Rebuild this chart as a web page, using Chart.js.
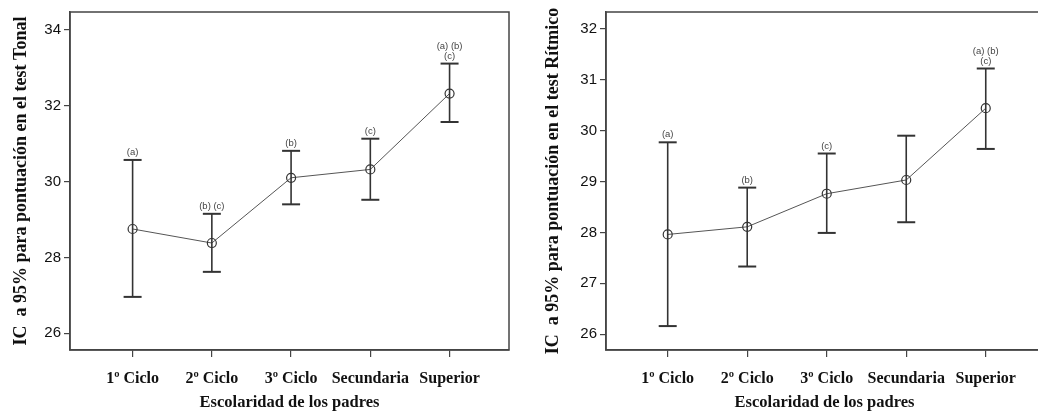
<!DOCTYPE html>
<html>
<head>
<meta charset="utf-8">
<script src="https://cdn.jsdelivr.net/npm/chart.js@4.4.0/dist/chart.umd.min.js"></script>
<style>
  html, body { margin: 0; padding: 0; background: #fff; overflow: hidden; }
  body { width: 1038px; height: 415px; position: relative; }
  .panel { position: absolute; top: 0; height: 415px; }
</style>
</head>
<body>
<div class="panel" style="left:0;width:520px"><canvas id="tonal"></canvas></div>
<div class="panel" style="left:520px;width:560px"><canvas id="ritmico"></canvas></div>
<script>
const CATEGORIES = ["1º Ciclo", "2º Ciclo", "3º Ciclo", "Secundaria", "Superior"];

const TONAL_MEAN = [28.75, 28.38, 30.10, 30.32, 32.32];
const TONAL_LOW = [26.96, 27.62, 29.40, 29.52, 31.57];
const TONAL_HIGH = [30.57, 29.15, 30.81, 31.13, 33.11];
const TONAL_LETTERS = [["(a)"], ["(b) (c)"], ["(b)"], ["(c)"], ["(a) (b)", "(c)"]];
const TONAL_TICKS = [26, 28, 30, 32, 34];

const RITMICO_MEAN = [27.96, 28.11, 28.76, 29.03, 30.44];
const RITMICO_LOW = [26.16, 27.33, 27.99, 28.20, 29.64];
const RITMICO_HIGH = [29.77, 28.88, 29.55, 29.90, 31.22];
const RITMICO_LETTERS = [["(a)"], ["(b)"], ["(c)"], [], ["(a) (b)", "(c)"]];
const RITMICO_TICKS = [26, 27, 28, 29, 30, 31, 32];

const AXIS_COLOR = "#444";

// box round the plot area
const framePlugin = {
  id: "frame",
  beforeDatasetsDraw(chart) {
    const { ctx, chartArea } = chart;
    ctx.save();
    ctx.strokeStyle = AXIS_COLOR;
    ctx.lineWidth = 1.5;
    ctx.strokeRect(chartArea.left, chartArea.top, chartArea.right - chartArea.left, chartArea.bottom - chartArea.top);
    ctx.restore();
  },
};

// the (a) (b) (c) marks above each error bar
const lettersPlugin = {
  id: "letters",
  afterDatasetsDraw(chart, args, opts) {
    const { ctx } = chart;
    const xs = chart.scales.x, ys = chart.scales.y;
    ctx.save();
    ctx.font = "9.5px 'Liberation Sans', Arial, sans-serif";
    ctx.fillStyle = "#444";
    ctx.textAlign = "center";
    ctx.textBaseline = "alphabetic";
    opts.labels.forEach((lines, i) => {
      const x = xs.getPixelForValue(i);
      const y = ys.getPixelForValue(opts.high[i]) - 5;
      for (let j = lines.length - 1; j >= 0; j--) {
        ctx.fillText(lines[j], x, y - (lines.length - 1 - j) * 10);
      }
    });
    ctx.restore();
  },
};

function makeChart(id, p) {
  const datasets = [];
  p.low.forEach((lo, i) => {
    datasets.push({
      data: [{ x: i, y: lo }, { x: i, y: p.high[i] }],
      showLine: true,
      borderColor: "#333",
      borderWidth: 1.6,
      pointStyle: "line",
      pointRadius: 9,
      pointBorderWidth: 2,
      pointBorderColor: "#333",
    });
  });
  datasets.push({
    data: p.mean.map((m, i) => ({ x: i, y: m })),
    showLine: true,
    borderColor: "#555",
    borderWidth: 1,
    pointRadius: 4.5,
    pointBackgroundColor: "rgba(0,0,0,0)",
    pointBorderColor: "#333",
    pointBorderWidth: 1.2,
  });

  return new Chart(document.getElementById(id), {
    type: "scatter",
    data: { datasets },
    plugins: [framePlugin, lettersPlugin],
    options: {
      responsive: true,
      maintainAspectRatio: false,
      animation: false,
      layout: { padding: p.padding },
      plugins: {
        legend: { display: false },
        tooltip: { enabled: false },
        letters: { labels: p.letters, high: p.high },
      },
      scales: {
        x: {
          type: "linear",
          min: p.xMin,
          max: p.xMax,
          afterBuildTicks: (s) => { s.ticks = CATEGORIES.map((_, i) => ({ value: i })); },
          afterFit: (s) => { s.height = 65; },
          ticks: {
            callback: (v) => CATEGORIES[v],
            font: { family: "'Liberation Serif', 'Times New Roman', serif", size: 16, weight: "bold" },
            color: "#111",
            padding: 12,
            maxRotation: 0,
          },
          grid: { drawOnChartArea: false, drawTicks: true, tickLength: 7, color: AXIS_COLOR, lineWidth: 1.2 },
          border: { color: AXIS_COLOR, width: 1.5 },
          title: {
            display: true,
            text: "Escolaridad de los padres",
            font: { family: "'Liberation Serif', 'Times New Roman', serif", size: 16.5, weight: "bold" },
            color: "#111",
            padding: { top: 2, bottom: 2 },
          },
        },
        y: {
          type: "linear",
          min: p.yMin,
          max: p.yMax,
          afterBuildTicks: (s) => { s.ticks = p.ticks.map((v) => ({ value: v })); },
          afterFit: (s) => { s.width = p.yWidth; },
          ticks: {
            font: { family: "'Liberation Sans', Arial, sans-serif", size: 15 },
            color: "#111",
            padding: 3,
          },
          grid: { drawOnChartArea: false, drawTicks: true, tickLength: 6, color: AXIS_COLOR, lineWidth: 1.2 },
          border: { color: AXIS_COLOR, width: 1.5 },
          title: {
            display: true,
            text: p.yTitle,
            font: { family: "'Liberation Serif', 'Times New Roman', serif", size: 18, weight: "bold" },
            color: "#111",
            padding: { top: p.titlePad, bottom: 0 },
          },
        },
      },
    },
  });
}

makeChart("tonal", {
  mean: TONAL_MEAN, low: TONAL_LOW, high: TONAL_HIGH, letters: TONAL_LETTERS, ticks: TONAL_TICKS,
  xMin: -0.79, xMax: 4.75, yMin: 25.56, yMax: 34.47,
  yWidth: 70, titlePad: 11,
  padding: { top: 8, right: 8, left: 0, bottom: 0 },
  yTitle: "IC  a 95% para pontuación en el test Tonal",
});

makeChart("ritmico", {
  mean: RITMICO_MEAN, low: RITMICO_LOW, high: RITMICO_HIGH, letters: RITMICO_LETTERS, ticks: RITMICO_TICKS,
  xMin: -0.776, xMax: 4.72, yMin: 25.69, yMax: 32.33,
  yWidth: 86, titlePad: 23,
  padding: { top: 11, right: 37, left: 0, bottom: 0 },
  yTitle: "IC  a 95% para pontuación en el test Rítmico",
});
</script>
</body>
</html>
